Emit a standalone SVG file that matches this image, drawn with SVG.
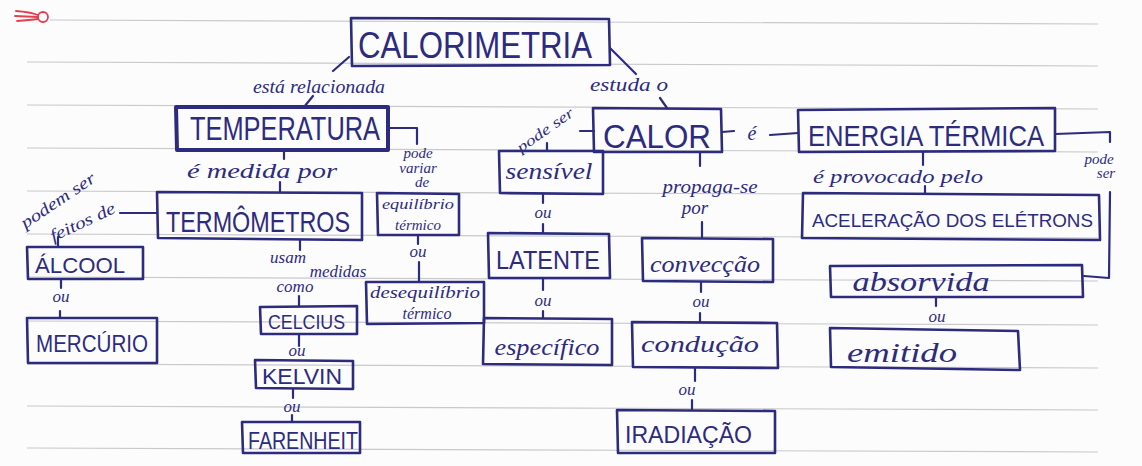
<svg xmlns="http://www.w3.org/2000/svg" width="1142" height="466" viewBox="0 0 1142 466">
  <style>
    .paper { fill: #fcfcfc; }
    .rule { stroke: #c9c9cc; stroke-width: 1.2; fill: none; }
    .box { fill: none; stroke: #2d2b7e; stroke-width: 2.6; stroke-linejoin: round; }
    .thick { stroke-width: 4; }
    .wire { fill: none; stroke: #2d2b7e; stroke-width: 2.2; stroke-linecap: round; stroke-linejoin: round; }
    .cap { font-family: "Liberation Sans", Arial, sans-serif; fill: #2d2b7e; }
    .cur { font-family: "Liberation Serif", "DejaVu Serif", serif; font-style: italic; fill: #2d2b7e; }
    .ou { font-family: "Liberation Serif", "DejaVu Serif", serif; font-style: italic; fill: #2d2b7e; font-size: 17px; text-anchor: middle; }
    .logo { fill: none; stroke: #e0404f; stroke-width: 1.8; stroke-linecap: round; }
  </style>

  <!-- notebook page -->
  <rect class="paper" x="0" y="0" width="1142" height="466"/>
  <g id="ruling">
    <line class="rule" x1="50" y1="20" x2="1098" y2="24"/>
    <line class="rule" x1="27" y1="62" x2="1098" y2="66"/>
    <line class="rule" x1="27" y1="105" x2="1098" y2="109"/>
    <line class="rule" x1="27" y1="148" x2="1098" y2="152"/>
    <line class="rule" x1="27" y1="191" x2="1098" y2="195"/>
    <line class="rule" x1="27" y1="234" x2="1098" y2="238"/>
    <line class="rule" x1="27" y1="277" x2="1098" y2="281"/>
    <line class="rule" x1="27" y1="321" x2="1098" y2="325"/>
    <line class="rule" x1="27" y1="364" x2="1098" y2="368"/>
    <line class="rule" x1="27" y1="406" x2="1098" y2="410"/>
    <line class="rule" x1="27" y1="448" x2="1098" y2="452"/>
  </g>
  <g id="page-logo">
    <circle class="logo" cx="43" cy="17" r="5"/>
    <path class="logo" d="M16 11 Q30 12 38 15 M15 16 L38 17 M17 21 Q30 20 38 19"/>
  </g>

  <!-- connectors and linking words -->
  <g id="connectors">
    <path class="wire" d="M349 57 L333 71"/>
    <path class="wire" d="M313 96 L304 107"/>
    <path class="wire" d="M610 48 L636 74"/>
    <path class="wire" d="M660 98 L667 108"/>
    <path class="wire" d="M284 150 L284 159"/>
    <path class="wire" d="M280 182 L280 192"/>
    <path class="wire" d="M389 128 L417 128 L417 144"/>
    <path class="wire" d="M418 235 L418 244"/>
    <path class="wire" d="M419 262 L419 282"/>
    <path class="wire" d="M120 213 L157 213"/>
    <path class="wire" d="M58 237 L58 246"/>
    <path class="wire" d="M61 280 L61 288"/>
    <path class="wire" d="M60 311 L60 318"/>
    <path class="wire" d="M300 240 L300 250"/>
    <path class="wire" d="M299 296 L299 306"/>
    <path class="wire" d="M299 334 L299 346"/>
    <path class="wire" d="M293 389 L293 398"/>
    <path class="wire" d="M292 415 L292 422"/>
    <path class="wire" d="M580 131 L594 131"/>
    <path class="wire" d="M547 143 L547 150"/>
    <path class="wire" d="M543 194 L543 203"/>
    <path class="wire" d="M543 224 L543 233"/>
    <path class="wire" d="M543 279 L543 290"/>
    <path class="wire" d="M543 311 L543 318"/>
    <path class="wire" d="M700 152 L700 166"/>
    <path class="wire" d="M702 222 L702 238"/>
    <path class="wire" d="M701 282 L701 292"/>
    <path class="wire" d="M700 313 L700 322"/>
    <path class="wire" d="M695 368 L695 381"/>
    <path class="wire" d="M692 400 L692 410"/>
    <path class="wire" d="M722 132 L734 131"/>
    <path class="wire" d="M770 135 L798 133"/>
    <path class="wire" d="M923 152 L923 165"/>
    <path class="wire" d="M925 186 L925 193"/>
    <path class="wire" d="M1055 134 L1110 132 L1110 142"/>
    <path class="wire" d="M1110 192 L1109 278 L1084 276"/>
    <path class="wire" d="M936 297 L936 306"/>

    <text class="cur" x="319" y="93" font-size="19" text-anchor="middle" textLength="132" lengthAdjust="spacingAndGlyphs">está relacionada</text>
    <text class="cur" x="629" y="91" font-size="18" text-anchor="middle" textLength="78" lengthAdjust="spacingAndGlyphs">estuda o</text>
    <text class="cur" x="262" y="178" font-size="21" text-anchor="middle" textLength="150" lengthAdjust="spacingAndGlyphs">é medida por</text>
    <text class="cur" font-size="17" text-anchor="middle" transform="translate(61 205) rotate(-34)" textLength="86" lengthAdjust="spacingAndGlyphs">podem ser</text>
    <text class="cur" font-size="17" text-anchor="middle" transform="translate(85 227) rotate(-25)" textLength="70" lengthAdjust="spacingAndGlyphs">feitos de</text>
    <text class="cur" x="418" y="158" font-size="15" text-anchor="middle">pode</text>
    <text class="cur" x="418" y="173" font-size="15" text-anchor="middle">variar</text>
    <text class="cur" x="422" y="187" font-size="15" text-anchor="middle">de</text>
    <text class="ou" x="418" y="257">ou</text>
    <text class="cur" x="288" y="263" font-size="17" text-anchor="middle">usam</text>
    <text class="cur" x="338" y="277" font-size="17" text-anchor="middle">medidas</text>
    <text class="cur" x="295" y="292" font-size="17" text-anchor="middle">como</text>
    <text class="ou" x="61" y="302">ou</text>
    <text class="ou" x="297" y="356">ou</text>
    <text class="ou" x="292" y="412">ou</text>
    <text class="cur" font-size="15" text-anchor="middle" transform="translate(548 134) rotate(-35)" textLength="66" lengthAdjust="spacingAndGlyphs">pode ser</text>
    <text class="ou" x="543" y="218">ou</text>
    <text class="ou" x="543" y="306">ou</text>
    <text class="cur" x="710" y="193" font-size="19" text-anchor="middle" textLength="95" lengthAdjust="spacingAndGlyphs">propaga-se</text>
    <text class="cur" x="695" y="214" font-size="19" text-anchor="middle">por</text>
    <text class="ou" x="701" y="307">ou</text>
    <text class="ou" x="687" y="395">ou</text>
    <text class="cur" x="752" y="140" font-size="20" text-anchor="middle">é</text>
    <text class="cur" x="898" y="183" font-size="19" text-anchor="middle" textLength="170" lengthAdjust="spacingAndGlyphs">é provocado pelo</text>
    <text class="cur" x="1099" y="164" font-size="15" text-anchor="middle">pode</text>
    <text class="cur" x="1106" y="178" font-size="15" text-anchor="middle">ser</text>
    <text class="ou" x="937" y="322">ou</text>
  </g>

  <!-- concept boxes -->
  <g id="calorimetria">
    <path class="box" d="M351 18 L609 19 L610 65 L352 66 Z" stroke-width="3"/>
    <text class="cap" x="358" y="58" font-size="36" textLength="234" lengthAdjust="spacingAndGlyphs">CALORIMETRIA</text>
  </g>
  <g id="temperatura">
    <path class="box thick" d="M176 107 L388 107 L388 150 L177 150 Z"/>
    <text class="cap" x="190" y="140" font-size="34" textLength="190" lengthAdjust="spacingAndGlyphs">TEMPERATURA</text>
  </g>
  <g id="termometros">
    <path class="box" d="M157 192 L362 193 L362 240 L158 238 Z"/>
    <text class="cap" x="166" y="232" font-size="29" textLength="184" lengthAdjust="spacingAndGlyphs">TERMÔMETROS</text>
  </g>
  <g id="alcool">
    <path class="box" d="M27 247 L143 247 L143 279 L28 279 Z"/>
    <text class="cap" x="35" y="273" font-size="22" textLength="90" lengthAdjust="spacingAndGlyphs">ÁLCOOL</text>
  </g>
  <g id="mercurio">
    <path class="box" d="M27 318 L157 318 L157 363 L28 363 Z"/>
    <text class="cap" x="36" y="352" font-size="24" textLength="112" lengthAdjust="spacingAndGlyphs">MERCÚRIO</text>
  </g>
  <g id="celcius">
    <path class="box" d="M260 307 L357 306 L357 334 L261 334 Z"/>
    <text class="cap" x="268" y="329" font-size="20" textLength="77" lengthAdjust="spacingAndGlyphs">CELCIUS</text>
  </g>
  <g id="kelvin">
    <path class="box" d="M255 360 L353 361 L353 389 L256 388 Z"/>
    <text class="cap" x="262" y="384" font-size="22" textLength="80" lengthAdjust="spacingAndGlyphs">KELVIN</text>
  </g>
  <g id="farenheit">
    <path class="box" d="M242 422 L360 422 L360 453 L243 453 Z"/>
    <text class="cap" x="248" y="449" font-size="24" textLength="110" lengthAdjust="spacingAndGlyphs">FARENHEIT</text>
  </g>
  <g id="equilibrio-termico">
    <path class="box" d="M377 193 L459 194 L459 235 L378 235 Z"/>
    <text class="cur" x="418" y="209" font-size="15" text-anchor="middle" textLength="72" lengthAdjust="spacingAndGlyphs">equilíbrio</text>
    <text class="cur" x="418" y="230" font-size="15" text-anchor="middle">térmico</text>
  </g>
  <g id="desequilibrio-termico">
    <path class="box" d="M366 282 L484 282 L484 323 L367 324 Z"/>
    <text class="cur" x="425" y="298" font-size="16" text-anchor="middle" textLength="110" lengthAdjust="spacingAndGlyphs">desequilíbrio</text>
    <text class="cur" x="427" y="319" font-size="16" text-anchor="middle">térmico</text>
  </g>
  <g id="calor">
    <path class="box" d="M593 108 L721 109 L722 152 L594 152 Z"/>
    <text class="cap" x="603" y="148" font-size="34" textLength="108" lengthAdjust="spacingAndGlyphs">CALOR</text>
  </g>
  <g id="sensivel">
    <path class="box" d="M499 151 L603 151 L603 194 L500 193 Z"/>
    <text class="cur" x="549" y="179" font-size="23" text-anchor="middle" textLength="87" lengthAdjust="spacingAndGlyphs">sensível</text>
  </g>
  <g id="latente">
    <path class="box" d="M488 233 L609 234 L610 278 L489 278 Z"/>
    <text class="cap" x="496" y="269" font-size="25" textLength="104" lengthAdjust="spacingAndGlyphs">LATENTE</text>
  </g>
  <g id="especifico">
    <path class="box" d="M484 318 L612 319 L612 365 L483 364 Z"/>
    <text class="cur" x="547" y="355" font-size="23" text-anchor="middle" textLength="105" lengthAdjust="spacingAndGlyphs">específico</text>
  </g>
  <g id="conveccao">
    <path class="box" d="M642 238 L773 239 L773 282 L643 281 Z"/>
    <text class="cur" x="705" y="272" font-size="23" text-anchor="middle" textLength="110" lengthAdjust="spacingAndGlyphs">convecção</text>
  </g>
  <g id="conducao">
    <path class="box" d="M632 322 L777 323 L778 368 L633 367 Z"/>
    <text class="cur" x="700" y="352" font-size="23" text-anchor="middle" textLength="118" lengthAdjust="spacingAndGlyphs">condução</text>
  </g>
  <g id="irradiacao">
    <path class="box" d="M617 410 L775 411 L775 453 L618 453 Z"/>
    <text class="cap" x="625" y="443" font-size="24" textLength="127" lengthAdjust="spacingAndGlyphs">IRADIAÇÃO</text>
  </g>
  <g id="energia-termica">
    <path class="box" d="M798 110 L1055 108 L1055 151 L799 152 Z"/>
    <text class="cap" x="808" y="146" font-size="30" textLength="236" lengthAdjust="spacingAndGlyphs">ENERGIA TÉRMICA</text>
  </g>
  <g id="aceleracao-eletrons">
    <path class="box" d="M803 193 L1099 195 L1100 240 L802 238 Z"/>
    <text class="cap" x="812" y="227" font-size="19" textLength="281" lengthAdjust="spacingAndGlyphs">ACELERAÇÃO DOS ELÉTRONS</text>
  </g>
  <g id="absorvida">
    <path class="box" d="M830 266 L1082 265 L1083 297 L831 297 Z"/>
    <text class="cur" x="921" y="291" font-size="27" text-anchor="middle" textLength="137" lengthAdjust="spacingAndGlyphs">absorvida</text>
  </g>
  <g id="emitido">
    <path class="box" d="M830 328 L1018 331 L1020 370 L831 367 Z"/>
    <text class="cur" x="902" y="362" font-size="27" text-anchor="middle" textLength="110" lengthAdjust="spacingAndGlyphs">emitido</text>
  </g>
</svg>
